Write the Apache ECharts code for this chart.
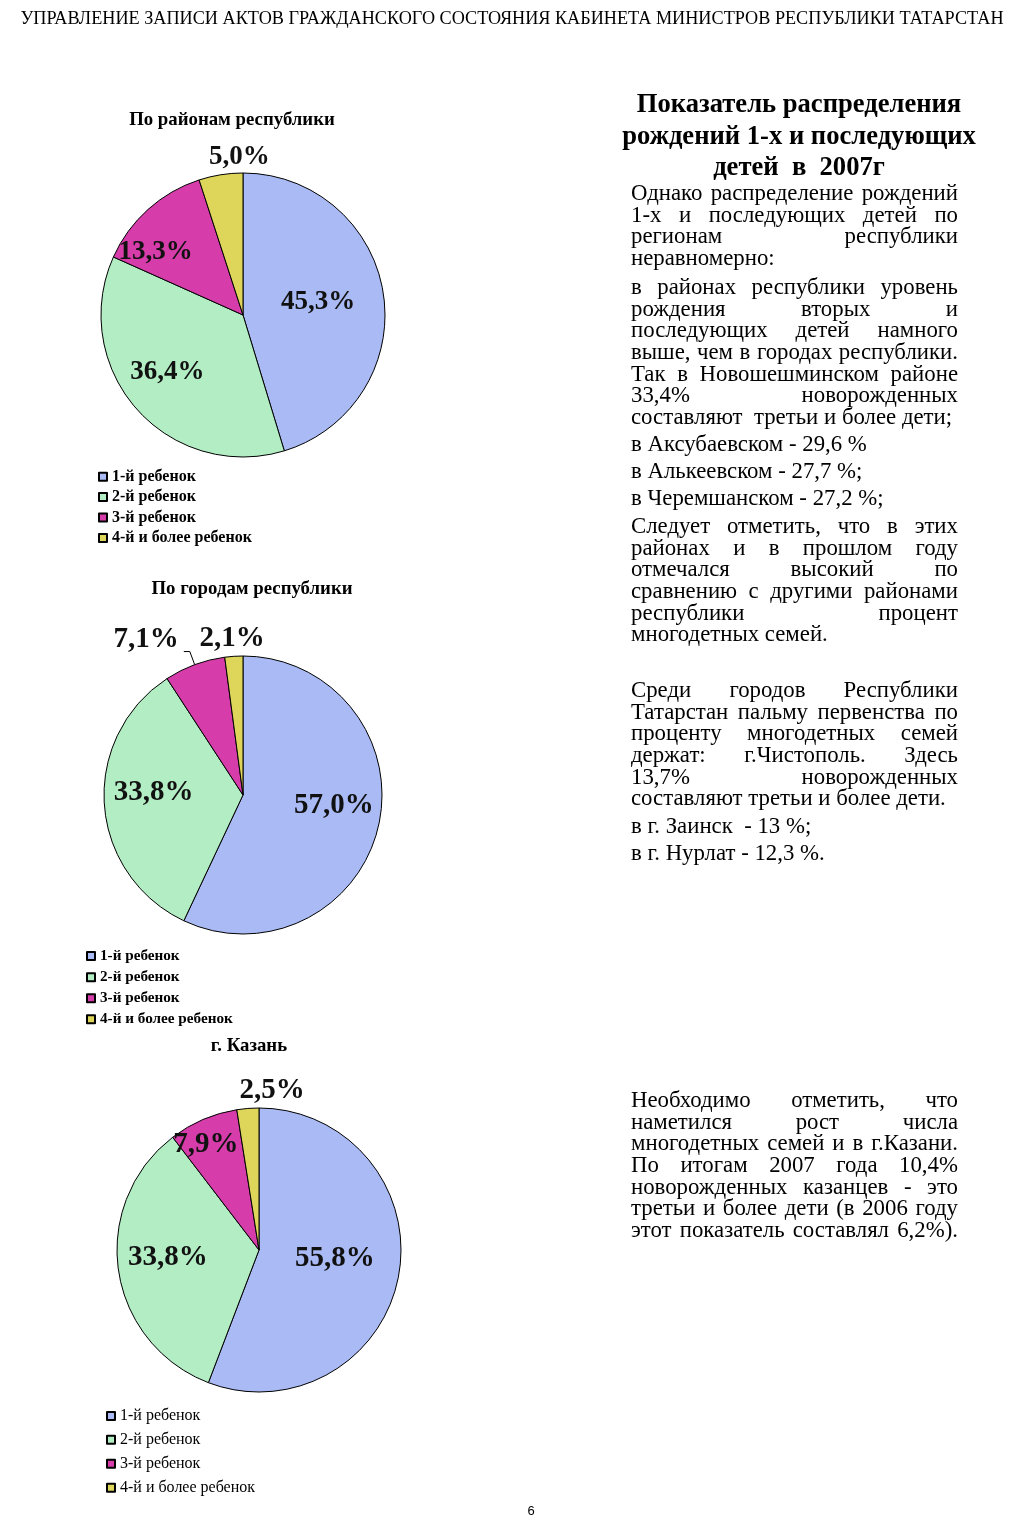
<!DOCTYPE html>
<html>
<head>
<meta charset="utf-8">
<script src="https://cdn.jsdelivr.net/npm/echarts@6/dist/echarts.min.js"></script>
<style>
  html, body { margin:0; padding:0; background:#fff; }
  body { width:1024px; height:1526px; position:relative; overflow:hidden; }
  #chart { position:absolute; left:0; top:0; width:1024px; height:1526px; }
  .txt { position:absolute; font-family:"Liberation Serif","Times New Roman",serif; color:#000; }
  #hdr { left:0; width:1024px; top:8px; text-align:center; font-size:18.2px; line-height:20px; white-space:nowrap; }
  #pg { left:0; width:1062px; top:1503px; text-align:center; font-family:"Liberation Sans",Arial,sans-serif; font-size:13px; line-height:16px; }
  #head { left:600px; width:398px; top:88px; text-align:center; font-weight:bold; font-size:26.6px; line-height:31.5px; white-space:nowrap; }
  .para { left:631px; width:327px; font-size:22.8px; }
  .para div { height:21.7px; line-height:21.7px; white-space:nowrap; }
  .para div.j { display:flex; justify-content:space-between; }
</style>
</head>
<body>
<div id="chart"></div>
<div class="txt" id="hdr">УПРАВЛЕНИЕ ЗАПИСИ АКТОВ ГРАЖДАНСКОГО СОСТОЯНИЯ КАБИНЕТА МИНИСТРОВ РЕСПУБЛИКИ ТАТАРСТАН</div>
<div class="txt" id="head">Показатель распределения<br>рождений 1-х и последующих<br>детей&nbsp; в&nbsp; 2007г</div>
<div class="txt para" style="top:182px">
  <div class="j">Однако распределение рождений</div>
  <div class="j">1-х и последующих детей по</div>
  <div class="j">регионам республики</div>
  <div>неравномерно:</div>
</div>
<div class="txt para" style="top:276px">
  <div class="j">в районах республики уровень</div>
  <div class="j">рождения вторых и</div>
  <div class="j">последующих детей намного</div>
  <div class="j">выше, чем в городах республики.</div>
  <div class="j">Так в Новошешминском районе</div>
  <div class="j">33,4% новорожденных</div>
  <div>составляют&nbsp; третьи и более дети;</div>
</div>
<div class="txt para" style="top:433px"><div>в Аксубаевском - 29,6 %</div></div>
<div class="txt para" style="top:460px"><div>в Алькеевском - 27,7 %;</div></div>
<div class="txt para" style="top:487px"><div>в Черемшанском - 27,2 %;</div></div>
<div class="txt para" style="top:515px">
  <div class="j">Следует отметить, что в этих</div>
  <div class="j">районах и в прошлом году</div>
  <div class="j">отмечался высокий по</div>
  <div class="j">сравнению с другими районами</div>
  <div class="j">республики процент</div>
  <div>многодетных семей.</div>
</div>
<div class="txt para" style="top:679px">
  <div class="j">Среди городов Республики</div>
  <div class="j">Татарстан пальму первенства по</div>
  <div class="j">проценту многодетных семей</div>
  <div class="j">держат: г.Чистополь. Здесь</div>
  <div class="j">13,7% новорожденных</div>
  <div>составляют третьи и более дети.</div>
</div>
<div class="txt para" style="top:815px"><div>в г. Заинск&nbsp; - 13 %;</div></div>
<div class="txt para" style="top:842px"><div>в г. Нурлат - 12,3 %.</div></div>
<div class="txt para" style="top:1089px">
  <div class="j">Необходимо отметить, что</div>
  <div class="j">наметился рост числа</div>
  <div class="j">многодетных семей и в г.Казани.</div>
  <div class="j">По итогам 2007 года 10,4%</div>
  <div class="j">новорожденных казанцев - это</div>
  <div class="j">третьи и более дети (в 2006 году</div>
  <div class="j">этот показатель составлял 6,2%).</div>
</div>
<div class="txt" id="pg">6</div>
<script>
// justify explicit lines: spread words across the column width
document.querySelectorAll('.para .j').forEach(function (el) {
  const words = el.textContent.trim().split(/\s+/);
  el.innerHTML = '';
  words.forEach(function (w) { const s = document.createElement('span'); s.textContent = w; el.appendChild(s); });
});

// ---- data ----
const categories = ['1-й ребенок', '2-й ребенок', '3-й ребенок', '4-й и более ребенок'];
const districtValues = [45.3, 36.4, 13.3, 5.0];
const cityValues = [57.0, 33.8, 7.1, 2.1];
const kazanValues = [55.8, 33.8, 7.9, 2.5];
const chartTitles = ['По районам республики', 'По городам республики', 'г. Казань'];

// ---- styles ----
const colors = ['#A9BAF4', '#B2EDC4', '#D73CAB', '#DED65A'];
const serif = '"Liberation Serif","Times New Roman",serif';
const fmt = p => p.value.toFixed(1).replace('.', ',') + '%';

// label nudges (px) per chart, per slice
const nudges = [
  [[2, -2], [-20, 8], [-38, -8], [8, -85]],
  [[20, -5], [-17, -7], [0, -12], [-6, -84]],
  [[3, -5], [-18, -3], [-24, -37], [19, -86]]
];

function makeData(values, outsideIdx) {
  return values.map((v, i) => {
    const d = { name: categories[i], value: v, itemStyle: { color: colors[i] } };
    if (i === outsideIdx) {
      d.label = { position: 'outside' };
      d.labelLine = { show: true, length: 14, length2: 6, lineStyle: { color: '#000', width: 1 } };
    }
    return d;
  });
}

function pie(values, center, radius, fontSize, k, outsideIdx) {
  return {
    type: 'pie',
    center: center,
    radius: radius,
    startAngle: 90,
    clockwise: true,
    avoidLabelOverlap: false,
    silent: true,
    animation: false,
    data: makeData(values, outsideIdx),
    itemStyle: { borderColor: '#000', borderWidth: 1 },
    label: {
      show: true, position: 'inside', formatter: fmt,
      fontFamily: serif, fontWeight: 'bold', fontSize: fontSize, color: '#111'
    },
    labelLine: { show: false },
    labelLayout: function (p) {
      const n = nudges[k][p.dataIndex];
      return n ? { dx: n[0], dy: n[1] } : {};
    },
    emphasis: { disabled: true }
  };
}

function legend(left, top, lh, fontSize, weight) {
  return {
    orient: 'vertical', left: left, top: top, padding: 0,
    itemGap: 0, itemWidth: 8, itemHeight: 8, icon: 'rect',
    selectedMode: false, data: categories,
    textStyle: { fontFamily: serif, fontSize: fontSize, fontWeight: weight, color: '#000', lineHeight: lh }
  };
}

function title(text, x, top) {
  return {
    text: text, left: x, top: top, textAlign: 'center', padding: 0,
    textStyle: { fontFamily: serif, fontSize: 18.8, fontWeight: 'bold', color: '#000' }
  };
}

const chart = echarts.init(document.getElementById('chart'), null, { renderer: 'canvas' });
chart.setOption({
  backgroundColor: '#fff',
  animation: false,
  title: [
    title(chartTitles[0], 232, 111),
    title(chartTitles[1], 252, 580),
    title(chartTitles[2], 249, 1037)
  ],
  legend: [
    legend(98, 466.5, 20.4, 16, 'bold'),
    legend(86, 945.5, 21.1, 15.2, 'bold'),
    legend(106, 1404, 23.9, 16, 'normal')
  ],
  series: [
    pie(districtValues, [243, 315], 142, 27, 0, -1),
    pie(cityValues, [243, 795], 139, 29, 1, 2),
    pie(kazanValues, [259, 1250], 142, 29, 2, -1)
  ]
});
</script>
</body>
</html>
